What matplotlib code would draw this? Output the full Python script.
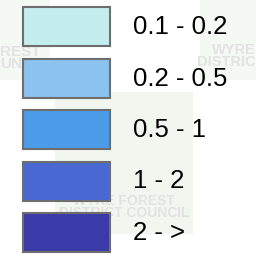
import matplotlib.pyplot as plt
from matplotlib.patches import Rectangle

# Data
labels = ['0.1 - 0.2', '0.2 - 0.5', '0.5 - 1', '1 - 2', '2 - >']
colors = ['#c4eeee', '#8cc2ee', '#4c9cea', '#4a68d2', '#3a3aa8']

fig = plt.figure(figsize=(2.56, 2.60), dpi=100)
ax = fig.add_axes([0, 0, 1, 1])
ax.set_xlim(0, 256)
ax.set_ylim(260, 0)
ax.axis('off')

# faint watermark in the background
ax.add_patch(Rectangle((55, 92), 138, 142, facecolor='#f1f7ef', edgecolor='none', zorder=0))
ax.add_patch(Rectangle((200, 0), 56, 80, facecolor='#f5f9f4', edgecolor='none', zorder=0))
ax.add_patch(Rectangle((0, 0), 50, 80, facecolor='#f5f9f4', edgecolor='none', zorder=0))
wm = dict(color='#e2e2e2', fontweight='bold', va='center',
          family='Liberation Sans', linespacing=0.85, zorder=1)
ax.text(124, 207, 'WYRE FOREST\nDISTRICT COUNCIL', ha='center', fontsize=10, **wm)
ax.text(0, 58, 'REST\nUNCIL', ha='left', fontsize=11, **wm)
ax.text(256, 56, 'WYRE\nDISTRIC', ha='right', fontsize=10.5, **wm)

# legend boxes and labels
for i, (lab, col) in enumerate(zip(labels, colors)):
    y = 7 + i * 51.5
    ax.add_patch(Rectangle((23, y), 87, 39, facecolor=col, edgecolor='#6e6e6e',
                           linewidth=1.5, zorder=2))
    ax.text(133, y + 20, lab, fontsize=18.5, family='Liberation Sans',
            ha='left', va='center', color='black', zorder=3)

plt.savefig('out.png', dpi=100)
